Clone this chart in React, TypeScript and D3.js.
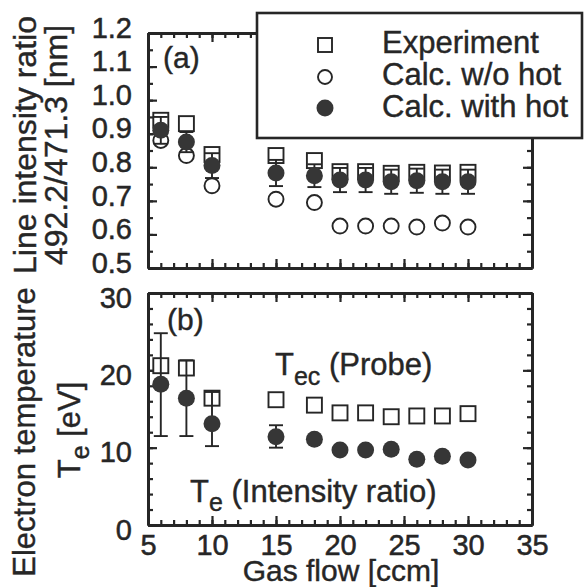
import React, { useEffect, useRef } from 'react';
import * as d3 from 'd3';

// gas flow [ccm] for every measurement
const flow = [6, 8, 10, 15, 18, 20, 22, 24, 26, 28, 30];

// (a) line intensity ratio 492.2/471.3
const ratioExp = [0.94, 0.93, 0.838, 0.835, 0.82, 0.787, 0.787, 0.782, 0.785, 0.783, 0.785];
const ratioNoHot = [0.88, 0.835, 0.745, 0.705, 0.695, 0.625, 0.625, 0.625, 0.622, 0.634, 0.622];
const ratioHot = [0.91, 0.875, 0.805, 0.783, 0.775, 0.762, 0.762, 0.757, 0.76, 0.757, 0.757];
const ratioHotErr = [0.04, 0.03, 0.037, 0.039, 0.034, 0.036, 0.036, 0.036, 0.036, 0.036, 0.036];

// (b) electron temperature [eV]
const teProbe = [20.6, 20.3, 16.4, 16.2, 15.5, 14.5, 14.5, 14.0, 14.1, 14.1, 14.4];
const teRatio = [18.2, 16.4, 13.1, 11.4, 11.1, 9.7, 9.7, 9.8, 8.5, 8.9, 8.4];
const teErrLo = [11.5, 11.5, 10.2, 10.0, null, null, null, null, null, null, null];
const teErrHi = [24.8, 21.3, 17.2, 12.9, null, null, null, null, null, null, null];

const xTicks = [5, 10, 15, 20, 25, 30, 35];
const ratioTicks = [0.5, 0.6, 0.7, 0.8, 0.9, 1.0, 1.1, 1.2];
const teTicks = [0, 10, 20, 30];

const legendLabels = ['Experiment', 'Calc. w/o hot', 'Calc. with hot'];

const INK = '#262626';
const FONT = '"Liberation Sans", Arial, Helvetica, sans-serif';

const App = () => {
  const ref = useRef<SVGSVGElement>(null);

  useEffect(() => {
    const svg = d3.select(ref.current);
    svg.selectAll('*').remove();

    const left = 148;
    const right = 532;
    const x = d3.scaleLinear().domain([5, 35]).range([left, right]);
    const yA = d3.scaleLinear().domain([0.5, 1.2]).range([268, 33]);
    const yB = d3.scaleLinear().domain([0, 30]).range([525, 293]);

    // frame with inward ticks on all four sides
    const frame = (y: d3.ScaleLinear<number, number>, yMinorStep: number, yLabels: number[],
                   labelDy: number, fmt: (v: number) => string, xLabels: boolean) => {
      const [y0, y1] = y.domain();
      const top = y.range()[1];
      const bottom = y.range()[0];
      const g = svg.append('g');
      const xMinor = d3.range(5, 35.01, 1);
      const yMinor = d3.range(y0, y1 + 1e-6, yMinorStep);

      const sides = [
        { ax: d3.axisBottom(x), pos: `translate(0,${bottom})`, minor: xMinor, major: xTicks, lab: xLabels, isX: true },
        { ax: d3.axisTop(x), pos: `translate(0,${top})`, minor: xMinor, major: xTicks, lab: false, isX: true },
        { ax: d3.axisLeft(y), pos: `translate(${left},0)`, minor: yMinor, major: yLabels, lab: true, isX: false },
        { ax: d3.axisRight(y), pos: `translate(${right},0)`, minor: yMinor, major: yLabels, lab: false, isX: false },
      ];
      sides.forEach(s => {
        g.append('g').attr('transform', s.pos)
          .call((s.ax as any).tickValues(s.minor).tickSize(-5).tickSizeOuter(0).tickFormat(() => ''));
        const major = g.append('g').attr('transform', s.pos)
          .call((s.ax as any).tickValues(s.major).tickSize(-9).tickSizeOuter(0)
            .tickPadding(s.isX ? 9 : 16).tickFormat(s.lab ? (s.isX ? (d: number) => `${d}` : fmt) : () => ''));
        if (!s.isX) major.selectAll('text').attr('transform', `translate(0,${labelDy})`);
      });
      g.selectAll('.domain').attr('stroke', INK).attr('stroke-width', 3);
      g.selectAll('.tick line').attr('stroke', INK).attr('stroke-width', 2.2);
      g.selectAll('.tick text').attr('fill', INK).attr('stroke', INK).attr('stroke-width', 0.5)
        .style('font-family', FONT).style('font-size', '29px');
      return g;
    };

    frame(yA, 0.05, ratioTicks, -5, d => d.toFixed(1), false);
    frame(yB, 2, teTicks, 5, d => `${d}`, true);

    const errBar = (g: any, cx: number, ya: number, yb: number) => {
      g.append('line').attr('x1', cx).attr('x2', cx).attr('y1', ya).attr('y2', yb);
      g.append('line').attr('x1', cx - 7).attr('x2', cx + 7).attr('y1', ya).attr('y2', ya);
      g.append('line').attr('x1', cx - 7).attr('x2', cx + 7).attr('y1', yb).attr('y2', yb);
    };

    // ---- panel (a)
    const pa = svg.append('g');
    pa.selectAll('circle.nohot').data(flow).enter().append('circle')
      .attr('cx', d => x(d)).attr('cy', (d, i) => yA(ratioNoHot[i])).attr('r', 7.5)
      .attr('fill', 'white').attr('stroke', INK).attr('stroke-width', 1.9);
    pa.selectAll('rect.exp').data(flow).enter().append('rect')
      .attr('x', d => x(d) - 7.5).attr('y', (d, i) => yA(ratioExp[i]) - 7.5)
      .attr('width', 15).attr('height', 15)
      .attr('fill', 'white').attr('stroke', INK).attr('stroke-width', 1.9);
    const ea = pa.append('g').attr('stroke', INK).attr('stroke-width', 1.9);
    flow.forEach((f, i) => errBar(ea, x(f), yA(ratioHot[i] + ratioHotErr[i]), yA(ratioHot[i] - ratioHotErr[i])));
    pa.selectAll('circle.hot').data(flow).enter().append('circle')
      .attr('cx', d => x(d)).attr('cy', (d, i) => yA(ratioHot[i])).attr('r', 8.5)
      .attr('fill', '#363636');

    // ---- panel (b)
    const pb = svg.append('g');
    pb.selectAll('rect.probe').data(flow).enter().append('rect')
      .attr('x', d => x(d) - 7.5).attr('y', (d, i) => yB(teProbe[i]) - 7.5)
      .attr('width', 15).attr('height', 15)
      .attr('fill', 'white').attr('stroke', INK).attr('stroke-width', 1.9);
    const eb = pb.append('g').attr('stroke', INK).attr('stroke-width', 1.9);
    flow.forEach((f, i) => {
      if (teErrLo[i] != null) errBar(eb, x(f), yB(teErrHi[i] as number), yB(teErrLo[i] as number));
    });
    pb.selectAll('circle.te').data(flow).enter().append('circle')
      .attr('cx', d => x(d)).attr('cy', (d, i) => yB(teRatio[i])).attr('r', 8.5)
      .attr('fill', '#363636');

    // ---- texts
    const txt = svg.append('g').attr('fill', INK).attr('stroke', INK).attr('stroke-width', 0.4)
      .style('font-family', FONT);
    txt.append('text').attr('x', 163).attr('y', 68).style('font-size', '30px').text('(a)');
    txt.append('text').attr('x', 167).attr('y', 330).style('font-size', '30px').text('(b)');

    const tec = txt.append('text').attr('x', 275).attr('y', 375).style('font-size', '31px');
    tec.append('tspan').text('T');
    tec.append('tspan').attr('dy', 10).style('font-size', '25px').text('ec');
    tec.append('tspan').attr('dy', -10).text(' (Probe)');

    const ter = txt.append('text').attr('x', 190).attr('y', 502).style('font-size', '31px');
    ter.append('tspan').text('T');
    ter.append('tspan').attr('dy', 9).style('font-size', '25px').text('e');
    ter.append('tspan').attr('dy', -9).text(' (Intensity ratio)');

    txt.append('text').attr('x', 341).attr('y', 581).attr('text-anchor', 'middle')
      .style('font-size', '30px').text('Gas flow [ccm]');

    txt.append('text').attr('transform', 'translate(36,145) rotate(-90)').attr('text-anchor', 'middle')
      .style('font-size', '32px').text('Line intensity ratio');
    txt.append('text').attr('transform', 'translate(67,145) rotate(-90)').attr('text-anchor', 'middle')
      .style('font-size', '32px').text('492.2/471.3 [nm]');
    txt.append('text').attr('transform', 'translate(35,432) rotate(-90)').attr('text-anchor', 'middle')
      .style('font-size', '31px').text('Electron temperature');
    const teLab = txt.append('text').attr('transform', 'translate(80,430) rotate(-90)').attr('text-anchor', 'middle')
      .style('font-size', '31px');
    teLab.append('tspan').text('T');
    teLab.append('tspan').attr('dy', 9).style('font-size', '25px').text('e');
    teLab.append('tspan').attr('dy', -9).text(' [eV]');

    // ---- legend
    const lg = svg.append('g');
    lg.append('rect').attr('x', 257).attr('y', 13).attr('width', 325).attr('height', 125)
      .attr('fill', 'white').attr('stroke', INK).attr('stroke-width', 2.6);
    lg.append('rect').attr('x', 318).attr('y', 38).attr('width', 14).attr('height', 14)
      .attr('fill', 'white').attr('stroke', INK).attr('stroke-width', 1.9);
    lg.append('circle').attr('cx', 325).attr('cy', 77).attr('r', 7)
      .attr('fill', 'white').attr('stroke', INK).attr('stroke-width', 1.9);
    lg.append('circle').attr('cx', 325).attr('cy', 108).attr('r', 8.5).attr('fill', '#363636');
    lg.selectAll('text').data(legendLabels).enter().append('text')
      .attr('x', 382).attr('y', (d, i) => 53 + i * 32)
      .attr('fill', INK).attr('stroke', INK).attr('stroke-width', 0.4)
      .style('font-family', FONT).style('font-size', '31px')
      .text(d => d);
  }, []);

  return (
    <svg
      ref={ref}
      width={585}
      height={587}
      style={{ position: 'absolute', left: 0, top: 0, background: 'white' }}
    />
  );
};

export default App;
